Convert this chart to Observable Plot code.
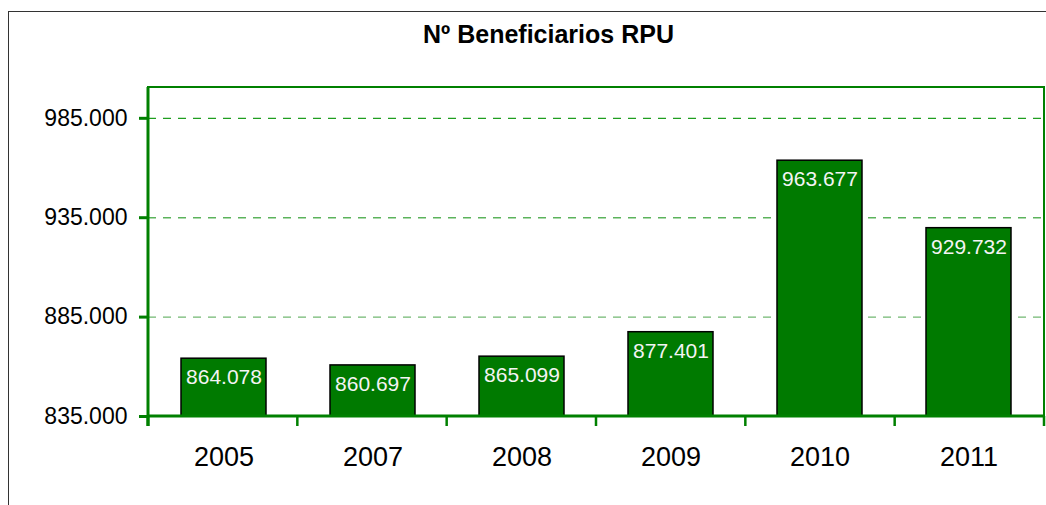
<!DOCTYPE html>
<html>
<head>
<meta charset="utf-8">
<script src="https://cdn.jsdelivr.net/npm/d3@7"></script>
<script src="https://cdn.jsdelivr.net/npm/@observablehq/plot@0.6"></script>
<style>
  html, body { margin: 0; padding: 0; background: #fff; }
  #wrap { position: relative; width: 1046px; height: 505px; overflow: hidden; }
  #border { position: absolute; left: 8px; top: 11px; width: 1100px; height: 600px;
            border-top: 1.5px solid #333; border-left: 1.5px solid #333; }
  #chart { position: absolute; left: 0; top: 0; }
</style>
</head>
<body>
<div id="wrap"><div id="border"></div><div id="chart"></div></div>
<script>
const title = "Nº Beneficiarios RPU";
const years = ["2005", "2007", "2008", "2009", "2010", "2011"];
const values = [864078, 860697, 865099, 877401, 963677, 929732];
const yTicks = [835000, 885000, 935000, 985000];
const gridTop = [985000];
const gridMid = [935000];
const gridLow = [885000];

const data = years.map((y, i) => ({year: y, value: values[i]}));
const fmt = v => d3.format(",.0f")(v / 1000).replace(/,/g, ".") + ".000";
const fmtVal = v => String(Math.floor(v / 1000)) + "." + String(v % 1000).padStart(3, "0");
const GREEN = "#008000";

// custom render: frame, category boundary ticks, heavy left/bottom axis lines
function axesLines(index, scales, values, dims) {
  const {width, height, marginLeft, marginRight, marginTop, marginBottom} = dims;
  const g = d3.create("svg:g");
  const x0 = marginLeft, x1 = width - marginRight, yb = height - marginBottom;
  const n = years.length, step = (x1 - x0) / n;
  g.append("rect").attr("x", x0).attr("y", marginTop).attr("width", x1 - x0).attr("height", yb - marginTop)
    .attr("fill", "none").attr("stroke", GREEN).attr("stroke-width", 2);
  g.append("line").attr("x1", x0).attr("x2", x0).attr("y1", marginTop).attr("y2", yb + 10)
    .attr("stroke", GREEN).attr("stroke-width", 3);
  g.append("line").attr("x1", x0).attr("x2", x1).attr("y1", yb).attr("y2", yb)
    .attr("stroke", GREEN).attr("stroke-width", 3);
  for (let k = 0; k <= n; k++) {
    const x = x0 + k * step;
    g.append("line").attr("x1", x).attr("x2", x).attr("y1", yb).attr("y2", yb + 10)
      .attr("stroke", GREEN).attr("stroke-width", k === 0 ? 3 : 2.5);
  }
  return g.node();
}

const chart = Plot.plot({
  width: 1046,
  height: 505,
  marginLeft: 148,
  marginRight: 2,
  marginTop: 87,
  marginBottom: 89,
  style: {fontFamily: "Liberation Sans, Arial, sans-serif", color: "black", background: "transparent"},
  x: {domain: years, paddingInner: 0.43, paddingOuter: 0.215, label: null},
  y: {domain: [835000, 1000500], label: null},
  marks: [
    Plot.ruleY(gridTop, {stroke: "#1f9e1f", strokeWidth: 1.3, strokeDasharray: "8,7"}),
    Plot.ruleY(gridMid, {stroke: "#5cb35c", strokeWidth: 1.6, strokeDasharray: "8,7"}),
    Plot.ruleY(gridLow, {stroke: "#72b872", strokeWidth: 1.1, strokeDasharray: "8,7"}),
    Plot.barY(data, {x: "year", y1: 835000, y2: "value", fill: "#007a00", stroke: "black", strokeWidth: 1.5}),
    Plot.text(data, {x: "year", y: "value", text: d => fmtVal(d.value), dy: 19, fill: "#f4f4f4", fontSize: 21}),
    axesLines,
    Plot.axisY({ticks: yTicks, tickFormat: fmt, tickSize: 9, tickPadding: 12, stroke: GREEN, strokeWidth: 3, fontSize: 23, fill: "black"}),
    Plot.axisX({tickSize: 0, tickPadding: 30, fontSize: 27, fill: "black"}),
    Plot.text([title], {frameAnchor: "top", lineAnchor: "middle", dy: -53, dx: -48, fontSize: 25, fontWeight: "bold", fill: "black"})
  ]
});
document.getElementById("chart").appendChild(chart);
</script>
</body>
</html>
